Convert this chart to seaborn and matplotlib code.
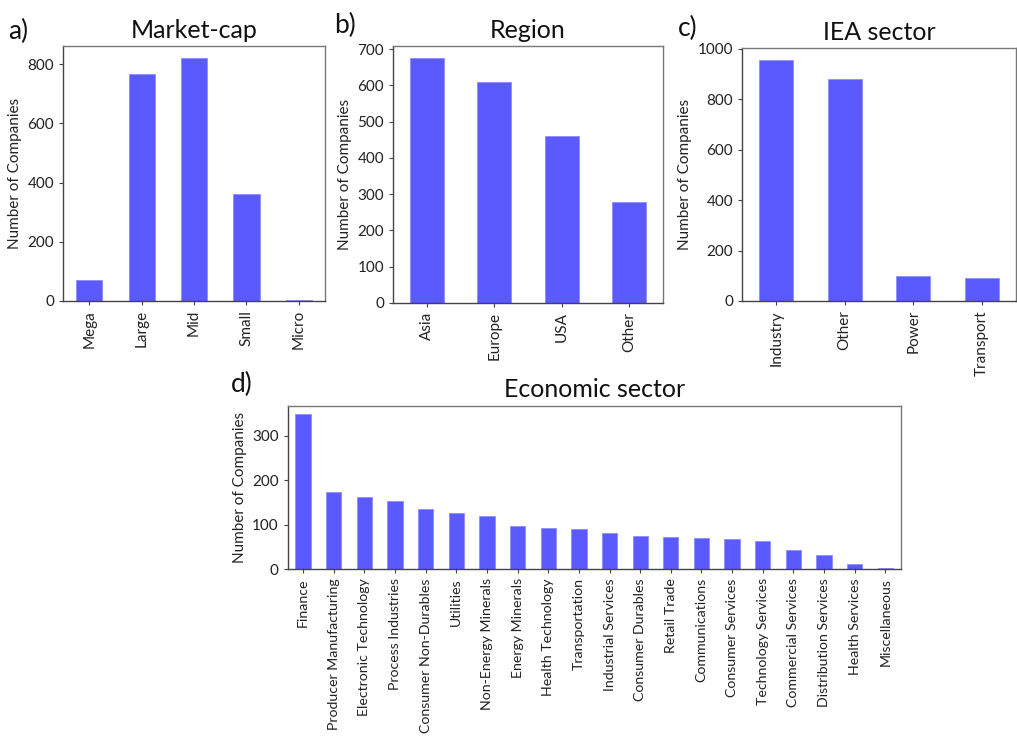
import matplotlib
matplotlib.use("Agg")
import matplotlib.pyplot as plt
from matplotlib.ticker import MultipleLocator
import seaborn as sns
import pandas as pd

# Company counts by grouping
mcap_labels = ["Mega", "Large", "Mid", "Small", "Micro"]
mcap_counts = [71, 766, 820, 363, 2]

region_labels = ["Asia", "Europe", "USA", "Other"]
region_counts = [675, 609, 460, 278]

iea_labels = ["Industry", "Other", "Power", "Transport"]
iea_counts = [956, 881, 99, 91]

econ_labels = ["Finance", "Producer Manufacturing", "Electronic Technology",
               "Process Industries", "Consumer Non-Durables", "Utilities",
               "Non-Energy Minerals", "Energy Minerals", "Health Technology",
               "Transportation", "Industrial Services", "Consumer Durables",
               "Retail Trade", "Communications", "Consumer Services",
               "Technology Services", "Commercial Services",
               "Distribution Services", "Health Services", "Miscellaneous"]
econ_counts = [350, 174, 163, 153, 135, 127, 120, 97, 93, 91, 82, 75, 72,
               70, 67, 64, 43, 32, 12, 2]

sns.set_style("ticks")
plt.rcParams["font.family"] = ["Lato", "DejaVu Sans"]

BAR = "#5a5aff"
SPINE = "#777777"

fig = plt.figure(figsize=(10.17, 7.39), dpi=100)

panels = [
    ("Market-cap", mcap_labels, mcap_counts, 200, 11, [0.062, 0.5927, 0.2576, 0.345]),
    ("Region", region_labels, region_counts, 100, 11, [0.3864, 0.590, 0.2656, 0.3478]),
    ("IEA sector", iea_labels, iea_counts, 200, 11, [0.7296, 0.5927, 0.2694, 0.3423]),
    ("Economic sector", econ_labels, econ_counts, 100, 10.2, [0.283, 0.2296, 0.6026, 0.2214]),
]

for title, labels, counts, step, xsize, rect in panels:
    ax = fig.add_axes(rect)
    df = pd.DataFrame({"group": labels, "count": counts})
    sns.barplot(data=df, x="group", y="count", order=labels, color=BAR,
                saturation=1, width=0.5, edgecolor="#8c8cff", linewidth=0.6,
                ax=ax)
    ax.set_xlabel("")
    ax.set_ylabel("Number of Companies", fontsize=11, color="#222222")
    ax.set_title(title, fontsize=18, color="#111111", pad=6)
    ax.yaxis.set_major_locator(MultipleLocator(step))
    ax.tick_params(axis="x", labelrotation=90, labelsize=xsize, length=3,
                   color="#444444", labelcolor="#222222")
    ax.tick_params(axis="y", labelsize=11, length=3, color="#444444",
                   labelcolor="#222222")
    for s in ax.spines.values():
        s.set_visible(True)
        s.set_color(SPINE)
        s.set_linewidth(1.0)
    ax.spines["bottom"].set_color("#444444")
    ax.spines["left"].set_color("#444444")
    ax.set_xlim(-0.5, len(labels) - 0.5)
    ax.set_ylim(0, max(counts) * 1.05)

# Panel letters
fig.text(0.008, 0.958, "a)", fontsize=19, color="#111111", va="center")
fig.text(0.329, 0.965, "b)", fontsize=19, color="#111111", va="center")
fig.text(0.667, 0.962, "c)", fontsize=19, color="#111111", va="center")
fig.text(0.227, 0.480, "d)", fontsize=19, color="#111111", va="center")

fig.savefig("out.png", dpi=100)
